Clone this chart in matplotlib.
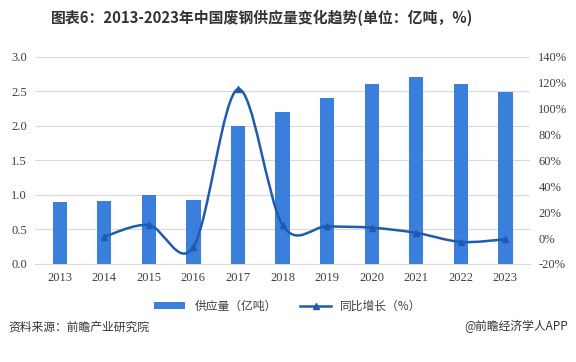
import matplotlib
matplotlib.use('Agg')
import matplotlib.pyplot as plt
from matplotlib.path import Path
from matplotlib.patches import PathPatch
from matplotlib.lines import Line2D
from matplotlib.patches import Patch
import numpy as np

plt.rcParams['font.family'] = ['Noto Sans CJK SC', 'DejaVu Sans']

# data
years = ['2013', '2014', '2015', '2016', '2017', '2018', '2019', '2020', '2021', '2022', '2023']
supply = [0.90, 0.91, 1.00, 0.93, 2.00, 2.20, 2.41, 2.61, 2.71, 2.60, 2.49]
growth_years = ['2014', '2015', '2016', '2017', '2018', '2019', '2020', '2021', '2022', '2023']
growth = [1, 10, -7, 115, 10, 9, 8, 4, -3, -1]

bar_col = '#3a7fdc'
line_col = '#1f5bb0'
txt_col = '#404040'
num_font = 'Liberation Serif'

fig = plt.figure(figsize=(5.76, 3.62), dpi=100)
ax = fig.add_axes([0.061, 0.271, 0.859, 0.572])
x = np.arange(len(years))
ax.bar(x, supply, width=0.32, color=bar_col, zorder=2)
ax.set_xlim(-0.55, len(years) - 0.45)
ax.set_ylim(0, 3.0)
ax.set_yticks(np.arange(0, 3.01, 0.5))
ax.set_yticklabels(['%.1f' % v for v in np.arange(0, 3.01, 0.5)], fontfamily=num_font, fontsize=9, color=txt_col)
ax.set_xticks(x)
ax.set_xticklabels(years, fontfamily=num_font, fontsize=9, color=txt_col)
ax.grid(axis='y', color='#d9d9d9', linewidth=0.8, zorder=0)
ax.tick_params(length=0, pad=6)
for s in ['top', 'left', 'right']:
    ax.spines[s].set_visible(False)
ax.spines['bottom'].set_color('#d9d9d9')

ax2 = ax.twinx()
ax2.set_ylim(-20, 140)
ax2.set_yticks(np.arange(-20, 141, 20))
ax2.set_yticklabels(['%d%%' % v for v in np.arange(-20, 141, 20)], fontfamily=num_font, fontsize=9, color=txt_col)
ax2.tick_params(length=0, pad=6)
for s in ['top', 'left', 'right', 'bottom']:
    ax2.spines[s].set_visible(False)

# smoothed line (bezier through the points, like Excel's smooth line)
gx = np.array([years.index(y) for y in growth_years], dtype=float)
gy = np.array(growth, dtype=float)
pts = np.column_stack([gx, gy])
verts = [pts[0]]
codes = [Path.MOVETO]
n = len(pts)
for i in range(n - 1):
    p0 = pts[i - 1] if i > 0 else pts[i]
    p1 = pts[i]
    p2 = pts[i + 1]
    p3 = pts[i + 2] if i + 2 < n else pts[i + 1]
    c1 = p1 + (p2 - p0) / 6.0
    c2 = p2 - (p3 - p1) / 6.0
    verts += [c1, c2, p2]
    codes += [Path.CURVE4] * 3
ax2.add_patch(PathPatch(Path(verts, codes), facecolor='none', edgecolor=line_col, linewidth=1.8, zorder=3))
ax2.plot(gx, gy, linestyle='none', marker='^', markersize=5, color=line_col, zorder=4)

handles = [Patch(facecolor=bar_col, edgecolor='none'),
           Line2D([0], [0], color=line_col, linewidth=1.8, marker='^', markersize=5)]
fig.legend(handles, ['供应量（亿吨）', '同比增长（%）'], loc='center', bbox_to_anchor=(0.5, 0.155),
           ncol=2, frameon=False, fontsize=8.5, handlelength=2.6, handleheight=0.5, columnspacing=2.0,
           labelcolor=txt_col)

fig.text(0.455, 0.95, '图表6：2013-2023年中国废钢供应量变化趋势(单位：亿吨，%)', ha='center', va='center',
         fontsize=10.7, fontweight='bold', color='#333333')
fig.text(0.014, 0.097, '资料来源：前瞻产业研究院', ha='left', va='center', fontsize=8.5, color='#333333')
fig.text(0.986, 0.097, '@前瞻经济学人APP', ha='right', va='center', fontsize=8.5, color='#333333')

fig.savefig('out.png', dpi=100)
